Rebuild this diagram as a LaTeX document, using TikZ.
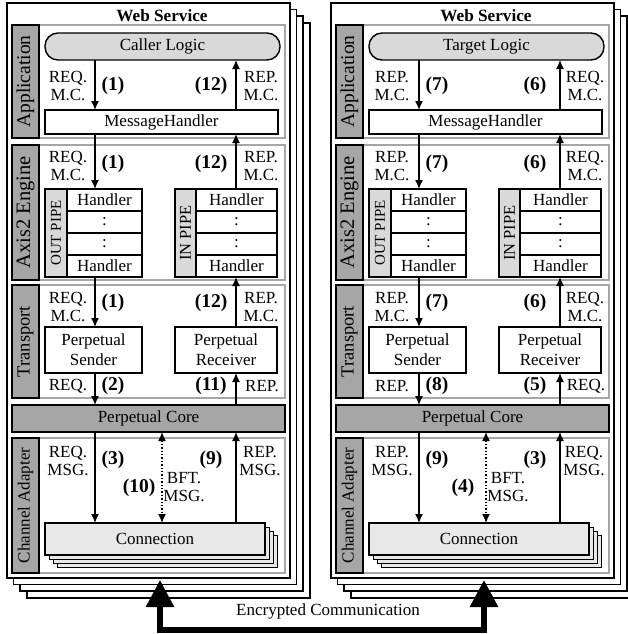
\documentclass[tikz,border=0pt]{standalone}
\usepackage{fontspec}
\setmainfont{Liberation Serif}
\usetikzlibrary{arrows.meta,calc}
\definecolor{bargray}{RGB}{166,166,166}
\definecolor{logicgray}{RGB}{217,217,217}
\definecolor{conngray}{RGB}{232,232,232}

\begin{document}
\begin{tikzpicture}[x=1pt, y=-1pt,
  frame/.style={draw, fill=white, line width=1.6pt, inner sep=0, outer sep=0},
  panel/.style={draw=bargray, fill=white, line width=1.3pt, inner sep=0, outer sep=0},
  bar/.style={draw, fill=bargray, line width=1.3pt, inner sep=0, outer sep=0, rotate=90},
  box/.style={draw, fill=white, line width=1.4pt, inner sep=0, outer sep=0,
              align=center, font=\fontsize{17}{20}\selectfont},
  logic/.style={box, fill=logicgray, rounded corners=13pt},
  core/.style={box, fill=bargray, line width=1.6pt},
  pipe/.style={box, fill=logicgray, rotate=90},
  conn/.style={box, fill=conngray},
  lbl/.style={inner sep=0, align=center, font=\fontsize{17}{18.3}\selectfont},
  num/.style={inner sep=0, font=\bfseries\fontsize{19.5}{20}\selectfont},
  arr/.style={-{Latex[length=9pt,width=8pt]}, line width=1.4pt},
  dotarr/.style={{Latex[length=9pt,width=8pt]}-{Latex[length=9pt,width=8pt]}, line width=1.4pt, dotted},
  bigarr/.style={{Triangle[length=27pt,width=27pt]}-{Triangle[length=27pt,width=27pt]},
                 line width=6pt, line join=miter},
]
\useasboundingbox (0,0) rectangle (628,634);

\foreach \s/\dx/\logic/\outm/\inm/\a/\b/\c/\d/\e/\f/\g in
  {L/0/Caller Logic/REQ/REP/1/12/2/11/3/10/9,
   R/324/Target Logic/REP/REQ/7/6/8/5/9/4/3}
{
  % stacked service frames
  \foreach \k in {3,2,1}
    \node[frame, minimum width=283pt, minimum height=575pt] (\s-frame\k)
      at (\dx+148.5+6.6*\k, 290.5+6.6*\k) {};
  \node[frame, minimum width=283pt, minimum height=575pt] (\s-frame) at (\dx+148.5, 290.5) {};
  \node[inner sep=0, font=\bfseries\fontsize{17.2}{18}\selectfont] (\s-title) at (\dx+162, 16) {Web Service};

  % layers
  \node[panel, minimum width=273pt, minimum height=113pt] (\s-app) at (\dx+148.5, 81.5) {};
  \node[panel, minimum width=273pt, minimum height=135pt] (\s-axis) at (\dx+148.5, 212.5) {};
  \node[panel, minimum width=273pt, minimum height=113pt] (\s-trans) at (\dx+148.5, 341.5) {};
  \node[panel, minimum width=273pt, minimum height=135pt] (\s-chan) at (\dx+148.5, 505.5) {};
  \node[bar, minimum width=113pt, minimum height=27pt, font=\fontsize{19.5}{20}\selectfont]
    (\s-appbar) at (\dx+25.5, 81.5) {Application};
  \node[bar, minimum width=135pt, minimum height=27pt, font=\fontsize{20.5}{21}\selectfont]
    (\s-axisbar) at (\dx+25.5, 212.5) {Axis2 Engine};
  \node[bar, minimum width=113pt, minimum height=27pt, font=\fontsize{18.5}{19}\selectfont]
    (\s-transbar) at (\dx+25.5, 341.5) {Transport};
  \node[bar, minimum width=135pt, minimum height=27pt, font=\fontsize{17}{18}\selectfont]
    (\s-chanbar) at (\dx+25.5, 505.5) {Channel Adapter};
  \node[core, minimum width=273pt, minimum height=27pt] (\s-core) at (\dx+148.5, 418.5) {Perpetual Core};

  % boxes
  \node[logic, minimum width=235pt, minimum height=27pt] (\s-logic) at (\dx+162.5, 46.5) {\logic};
  \node[box, minimum width=233pt, minimum height=24pt] (\s-mh) at (\dx+161.5, 122) {MessageHandler};
  \node[pipe, minimum width=88pt, minimum height=22pt, font=\fontsize{15}{16}\selectfont]
    (\s-outpipe) at (\dx+56, 233) {OUT PIPE};
  \node[pipe, minimum width=88pt, minimum height=21pt, font=\fontsize{16.5}{17}\selectfont]
    (\s-inpipe) at (\dx+185.5, 233) {IN PIPE};
  \foreach \r/\t [count=\i] in {200/Handler, 222/:, 244/:, 266/Handler} {
    \node[box, minimum width=75pt, minimum height=22pt] (\s-o\i) at (\dx+104.5, \r) {\t};
    \node[box, minimum width=81pt, minimum height=22pt] (\s-i\i) at (\dx+236.5, \r) {\t};
  }
  \node[box, minimum width=97pt, minimum height=46pt] (\s-send) at (\dx+93.5, 350) {Perpetual\\Sender};
  \node[box, minimum width=102pt, minimum height=46pt] (\s-recv) at (\dx+226, 350) {Perpetual\\Receiver};
  \foreach \k in {3,2,1}
    \node[conn, minimum width=220pt, minimum height=32pt] (\s-conn\k) at (\dx+155+4.2*\k, 539+4.2*\k) {};
  \node[conn, minimum width=220pt, minimum height=32pt] (\s-conn) at (\dx+155, 539) {Connection};

  % columns
  \coordinate (\s-dn) at (\dx+95, 0);
  \coordinate (\s-up) at (\dx+236, 0);
  \coordinate (\s-bft) at (\dx+162, 0);
  \coordinate (\s-port) at (\dx+160, 580);

  % downward flow
  \draw[arr] (\s-logic.south -| \s-dn) -- (\s-mh.north -| \s-dn);
  \draw[arr] (\s-mh.south -| \s-dn) -- (\s-o1.north -| \s-dn);
  \draw[arr] (\s-o4.south -| \s-dn) -- (\s-send.north -| \s-dn);
  \draw[arr] (\s-send.south -| \s-dn) -- (\s-core.north -| \s-dn);
  \draw[arr] (\s-core.south -| \s-dn) -- (\s-conn.north -| \s-dn);
  % upward flow
  \draw[arr] (\s-mh.north -| \s-up) -- (\s-logic.south -| \s-up);
  \draw[arr] (\s-i1.north -| \s-up) -- (\s-mh.south -| \s-up);
  \draw[arr] (\s-recv.north -| \s-up) -- (\s-i4.south -| \s-up);
  \draw[arr] (\s-core.north -| \s-up) -- (\s-recv.south -| \s-up);
  \draw[arr] (\s-conn.north -| \s-up) -- (\s-core.south -| \s-up);
  \draw[dotarr] (\s-core.south -| \s-bft) -- (\s-conn.north -| \s-bft);

  % labels
  \node[lbl] (\s-l1) at (\dx+68, 86) {\outm.\\M.C.};
  \node[num] (\s-n1) at (\dx+113, 86) {(\a)};
  \node[num] (\s-n2) at (\dx+211, 86) {(\b)};
  \node[lbl] (\s-l2) at (\dx+261, 86) {\inm.\\M.C.};
  \node[lbl] (\s-l3) at (\dx+68, 166) {\outm.\\M.C.};
  \node[num] (\s-n3) at (\dx+113, 164) {(\a)};
  \node[num] (\s-n4) at (\dx+211, 164) {(\b)};
  \node[lbl] (\s-l4) at (\dx+261, 166) {\inm.\\M.C.};
  \node[lbl] (\s-l5) at (\dx+68, 307) {\outm.\\M.C.};
  \node[num] (\s-n5) at (\dx+113, 303) {(\a)};
  \node[num] (\s-n6) at (\dx+211, 303) {(\b)};
  \node[lbl] (\s-l6) at (\dx+261, 307) {\inm.\\M.C.};
  \node[lbl] (\s-l7) at (\dx+68, 386) {\outm.};
  \node[num] (\s-n7) at (\dx+113, 386) {(\c)};
  \node[num] (\s-n8) at (\dx+211, 386) {(\d)};
  \node[lbl] (\s-l8) at (\dx+262, 386) {\inm.};
  \node[lbl] (\s-l9) at (\dx+68, 461) {\outm.\\MSG.};
  \node[num] (\s-n9) at (\dx+113, 460) {(\e)};
  \node[num] (\s-n10) at (\dx+139, 488) {(\f)};
  \node[lbl] (\s-l10) at (\dx+184, 487) {BFT.\\MSG.};
  \node[num] (\s-n11) at (\dx+211, 460) {(\g)};
  \node[lbl] (\s-l11) at (\dx+260, 461) {\inm.\\MSG.};
}

% link between the two services
\coordinate (bus) at (322, 630);
\draw[bigarr] (L-port) |- (bus) -| (R-port);
\node[lbl] (enc) at (328, 611) {Encrypted Communication};
\end{tikzpicture}
\end{document}
